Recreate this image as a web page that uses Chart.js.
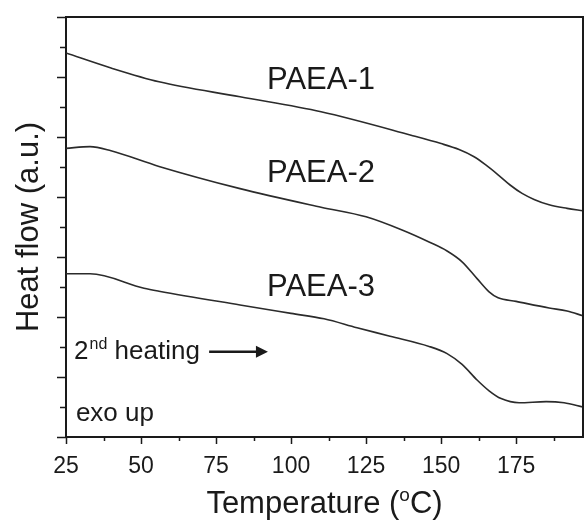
<!DOCTYPE html>
<html>
<head>
<meta charset="utf-8">
<script src="https://cdn.jsdelivr.net/npm/chart.js@4.4.1/dist/chart.umd.min.js"></script>
<style>
  html, body { margin: 0; padding: 0; background: #fff; }
  #wrap { width: 585px; height: 520px; }
</style>
</head>
<body>
<div id="wrap"><canvas id="dsc"></canvas></div>
<script>
// ---- datos (temperatura en oC, flujo en u.a.) ----
const paea1T = [25, 40, 56, 83, 110, 140, 150, 156, 161, 165, 169, 173, 177, 181, 186, 192, 197.3];
const paea1Y = [6.40, 6.15, 5.92, 5.67, 5.42, 5.03, 4.89, 4.79, 4.67, 4.53, 4.37, 4.20, 4.06, 3.96, 3.87, 3.81, 3.77];

const paea2T = [25, 33, 40, 56, 83, 110, 125, 137, 146, 152, 157, 162, 166, 169, 175, 186, 192, 197.3];
const paea2Y = [4.81, 4.84, 4.77, 4.51, 4.14, 3.83, 3.67, 3.45, 3.25, 3.10, 2.92, 2.64, 2.42, 2.32, 2.26, 2.15, 2.10, 2.02];

const paea3T = [25, 33, 51, 56, 83, 100, 111, 122, 133, 146, 152, 157, 162, 166, 170, 176, 185, 191, 197.3];
const paea3Y = [2.72, 2.72, 2.48, 2.43, 2.20, 2.06, 1.97, 1.82, 1.68, 1.51, 1.39, 1.21, 0.95, 0.77, 0.64, 0.57, 0.59, 0.57, 0.50];

const xTicks = [25, 37.5, 50, 62.5, 75, 87.5, 100, 112.5, 125, 137.5, 150, 162.5, 175, 187.5];
const yTicks = [0, 0.5, 1, 1.5, 2, 2.5, 3, 3.5, 4, 4.5, 5, 5.5, 6, 6.5, 7];
const etiquetas = ['PAEA-1', 'PAEA-2', 'PAEA-3'];

const FONT = "'Liberation Sans', Arial, sans-serif";
const INK = '#1a1a1a';

function puntos(t, y) {
    return t.map((v, i) => ({ x: v, y: y[i] }));
}

// marcas de los ejes, bordes y textos
const decoracion = {
    id: 'decoracion',
    afterDraw(chart) {
        const { ctx, chartArea: a, scales } = chart;
        const sx = scales.x, sy = scales.y;
        ctx.save();
        ctx.strokeStyle = INK;
        ctx.lineWidth = 2;
        // marco superior y derecho
        ctx.beginPath();
        ctx.moveTo(a.left, a.top);
        ctx.lineTo(a.right, a.top);
        ctx.lineTo(a.right, a.bottom);
        ctx.stroke();

        ctx.lineWidth = 1.5;
        ctx.beginPath();
        xTicks.forEach(v => {
            const px = Math.round(sx.getPixelForValue(v)) + 0.5;
            const len = v % 25 === 0 ? 7 : 4;
            ctx.moveTo(px, a.bottom);
            ctx.lineTo(px, a.bottom + len);
        });
        yTicks.forEach(v => {
            const py = Math.round(sy.getPixelForValue(v)) + 0.5;
            const len = v % 1 === 0 ? 9 : 6;
            ctx.moveTo(a.left, py);
            ctx.lineTo(a.left - len, py);
        });
        ctx.stroke();

        ctx.fillStyle = INK;
        ctx.textBaseline = 'alphabetic';
        ctx.textAlign = 'left';

        // nombres de las curvas
        ctx.font = `31px ${FONT}`;
        const yEtiq = [5.8, 4.25, 2.35];
        etiquetas.forEach((txt, i) => {
            ctx.fillText(txt, sx.getPixelForValue(92), sy.getPixelForValue(yEtiq[i]));
        });

        // 2nd heating ->
        let x = sx.getPixelForValue(27.7);
        let y = sy.getPixelForValue(1.3);
        ctx.font = `26px ${FONT}`;
        ctx.fillText('2', x, y);
        x += ctx.measureText('2').width;
        ctx.font = `16px ${FONT}`;
        ctx.fillText('nd', x + 1, y - 10);
        x += ctx.measureText('nd').width + 1;
        ctx.font = `26px ${FONT}`;
        ctx.fillText(' heating', x, y);

        const ay = sy.getPixelForValue(1.42);
        const ax0 = sx.getPixelForValue(72.7), ax1 = sx.getPixelForValue(92.3);
        ctx.lineWidth = 2.5;
        ctx.beginPath();
        ctx.moveTo(ax0, ay);
        ctx.lineTo(ax1 - 8, ay);
        ctx.stroke();
        ctx.beginPath();
        ctx.moveTo(ax1, ay);
        ctx.lineTo(ax1 - 12, ay - 6);
        ctx.lineTo(ax1 - 12, ay + 6);
        ctx.closePath();
        ctx.fill();

        // exo up
        ctx.font = `26px ${FONT}`;
        ctx.fillText('exo up', sx.getPixelForValue(28.3), sy.getPixelForValue(0.27));

        // titulo eje x con superindice
        const partes = [['Temperature (', 31, 0], ['o', 19, -12], ['C)', 31, 0]];
        let ancho = 0;
        partes.forEach(p => { ctx.font = `${p[1]}px ${FONT}`; ancho += ctx.measureText(p[0]).width; });
        x = (a.left + a.right) / 2 - ancho / 2;
        y = 513;
        partes.forEach(p => {
            ctx.font = `${p[1]}px ${FONT}`;
            ctx.fillText(p[0], x, y + p[2]);
            x += ctx.measureText(p[0]).width;
        });
        ctx.restore();
    }
};

const serie = (label, t, y) => ({
    label: label,
    data: puntos(t, y),
    borderColor: '#2b2b2b',
    borderWidth: 1.6,
    pointRadius: 0,
    fill: false,
    tension: 0.4,
    cubicInterpolationMode: 'monotone'
});

new Chart(document.getElementById('dsc'), {
    type: 'line',
    data: {
        datasets: [
            serie('PAEA-1', paea1T, paea1Y),
            serie('PAEA-2', paea2T, paea2Y),
            serie('PAEA-3', paea3T, paea3Y)
        ]
    },
    options: {
        responsive: true,
        maintainAspectRatio: false,
        animation: false,
        layout: { padding: { top: 17, right: 2, left: 0, bottom: 0 } },
        plugins: { legend: { display: false }, tooltip: { enabled: false } },
        scales: {
            x: {
                type: 'linear',
                min: 25,
                max: 197.3,
                afterBuildTicks: s => { s.ticks = xTicks.map(v => ({ value: v })); },
                afterFit: s => { s.height = 83; },
                grid: { display: false },
                border: { display: true, color: INK, width: 2 },
                ticks: {
                    padding: 8,
                    maxRotation: 0,
                    autoSkip: false,
                    color: INK,
                    font: { family: FONT, size: 23 },
                    callback: v => (v % 25 === 0 ? v : '')
                }
            },
            y: {
                type: 'linear',
                min: 0,
                max: 7,
                afterBuildTicks: s => { s.ticks = yTicks.map(v => ({ value: v })); },
                afterFit: s => { s.width = 66; },
                grid: { display: false },
                border: { display: true, color: INK, width: 2 },
                ticks: { display: false },
                title: {
                    display: true,
                    text: 'Heat flow (a.u.)',
                    color: INK,
                    font: { family: FONT, size: 31 },
                    padding: { top: 11, bottom: 0 }
                }
            }
        }
    },
    plugins: [decoracion]
});
</script>
</body>
</html>
